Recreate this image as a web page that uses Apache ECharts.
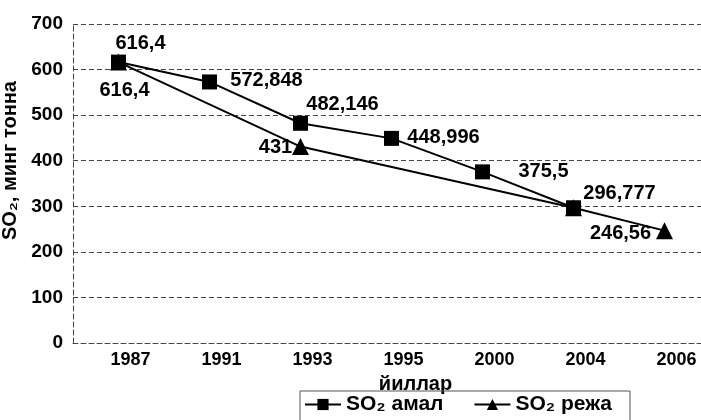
<!DOCTYPE html>
<html>
<head>
<meta charset="utf-8">
<script src="https://cdn.jsdelivr.net/npm/echarts@6/dist/echarts.min.js"></script>
<style>
  html, body { margin: 0; padding: 0; background: #fff; }
  #chart { width: 701px; height: 420px; }
</style>
</head>
<body>
<div id="chart"></div>
<script>
// йиллар
const years = ['1987', '1991', '1993', '1995', '2000', '2004', '2006'];
// SO2 амал (факт)
const amal = [616.4, 572.848, 482.146, 448.996, 375.5, 296.777, null];
const amalText = ['616,4', '572,848', '482,146', '448,996', '375,5', '296,777', ''];
// SO2 режа (режа)
const reja = [616.4, null, 431, null, null, 296.777, 246.56];
const rejaText = ['616,4', '', '431', '', '', '', '246,56'];
const yTicks = [0, 100, 200, 300, 400, 500, 600, 700];

// label offsets from marker centre, px
const amalOffset = [[22, -19], [57, -1], [42, -19], [52, -1], [61, 0], [46, -14], [0, 0]];
const rejaOffset = [[6, 28], [0, 0], [-25, 1], [0, 0], [0, 0], [0, 0], [-44, 3]];

const font = '"Liberation Sans", Arial, sans-serif';
const gridLine = { color: '#444', width: 1, type: [5, 3] };

function points(values, texts, offsets) {
  return values.map((v, i) => ({
    value: v,
    label: texts[i] ? {
      show: true,
      position: 'inside',
      offset: offsets[i],
      formatter: texts[i]
    } : { show: false }
  }));
}

const labelStyle = {
  color: '#000',
  fontFamily: font,
  fontWeight: 'bold',
  fontSize: 20
};

let myChart = echarts.init(document.getElementById('chart'));
let option = {
  animation: false,
  backgroundColor: '#fff',
  grid: { left: 73, right: -9, top: 24, bottom: 77, outerBoundsMode: 'none', containLabel: false },
  legend: {
    left: 300,
    top: 391,
    padding: [3, 18, 8, 4],
    itemGap: 30,
    itemWidth: 36,
    itemHeight: 14,
    borderColor: '#555',
    borderWidth: 1,
    textStyle: { color: '#000', fontFamily: font, fontSize: 21, fontWeight: 'bold' },
    data: ['SO₂ амал', 'SO₂ режа']
  },
  xAxis: {
    type: 'category',
    data: years,
    boundaryGap: true,
    name: 'йиллар',
    nameLocation: 'middle',
    nameGap: 31,
    nameTextStyle: {
      color: '#000', fontFamily: font, fontWeight: 'bold', fontSize: 20,
      padding: [0, 0, 0, 48]
    },
    axisLine: { show: true, lineStyle: gridLine },
    axisTick: { show: false },
    axisLabel: {
      color: '#000', fontFamily: font, fontWeight: 'bold', fontSize: 18,
      margin: 8, padding: [0, 0, 0, 24]
    }
  },
  yAxis: {
    type: 'value',
    min: 0,
    max: 700,
    interval: 100,
    name: 'SO₂, минг тонна',
    nameLocation: 'middle',
    nameGap: 49,
    nameTextStyle: {
      color: '#000', fontFamily: font, fontWeight: 'bold', fontSize: 20,
      padding: [0, 0, 0, 46]
    },
    axisLine: { show: true, lineStyle: gridLine },
    axisTick: { show: false },
    axisLabel: {
      color: '#000', fontFamily: font, fontWeight: 'bold', fontSize: 19,
      margin: 10,
      formatter: v => yTicks.includes(v) ? String(v) : ''
    },
    splitLine: { show: true, lineStyle: gridLine }
  },
  series: [{
    name: 'SO₂ амал',
    type: 'line',
    data: points(amal, amalText, amalOffset),
    symbol: 'rect',
    symbolSize: 15,
    z: 3,
    lineStyle: { color: '#000', width: 2 },
    itemStyle: { color: '#000' },
    label: labelStyle
  }, {
    name: 'SO₂ режа',
    type: 'line',
    data: points(reja, rejaText, rejaOffset),
    connectNulls: true,
    symbol: 'triangle',
    symbolSize: [17, 17],
    z: 2,
    lineStyle: { color: '#000', width: 2 },
    itemStyle: { color: '#000' },
    label: labelStyle
  }]
};
myChart.setOption(option);
</script>
</body>
</html>
